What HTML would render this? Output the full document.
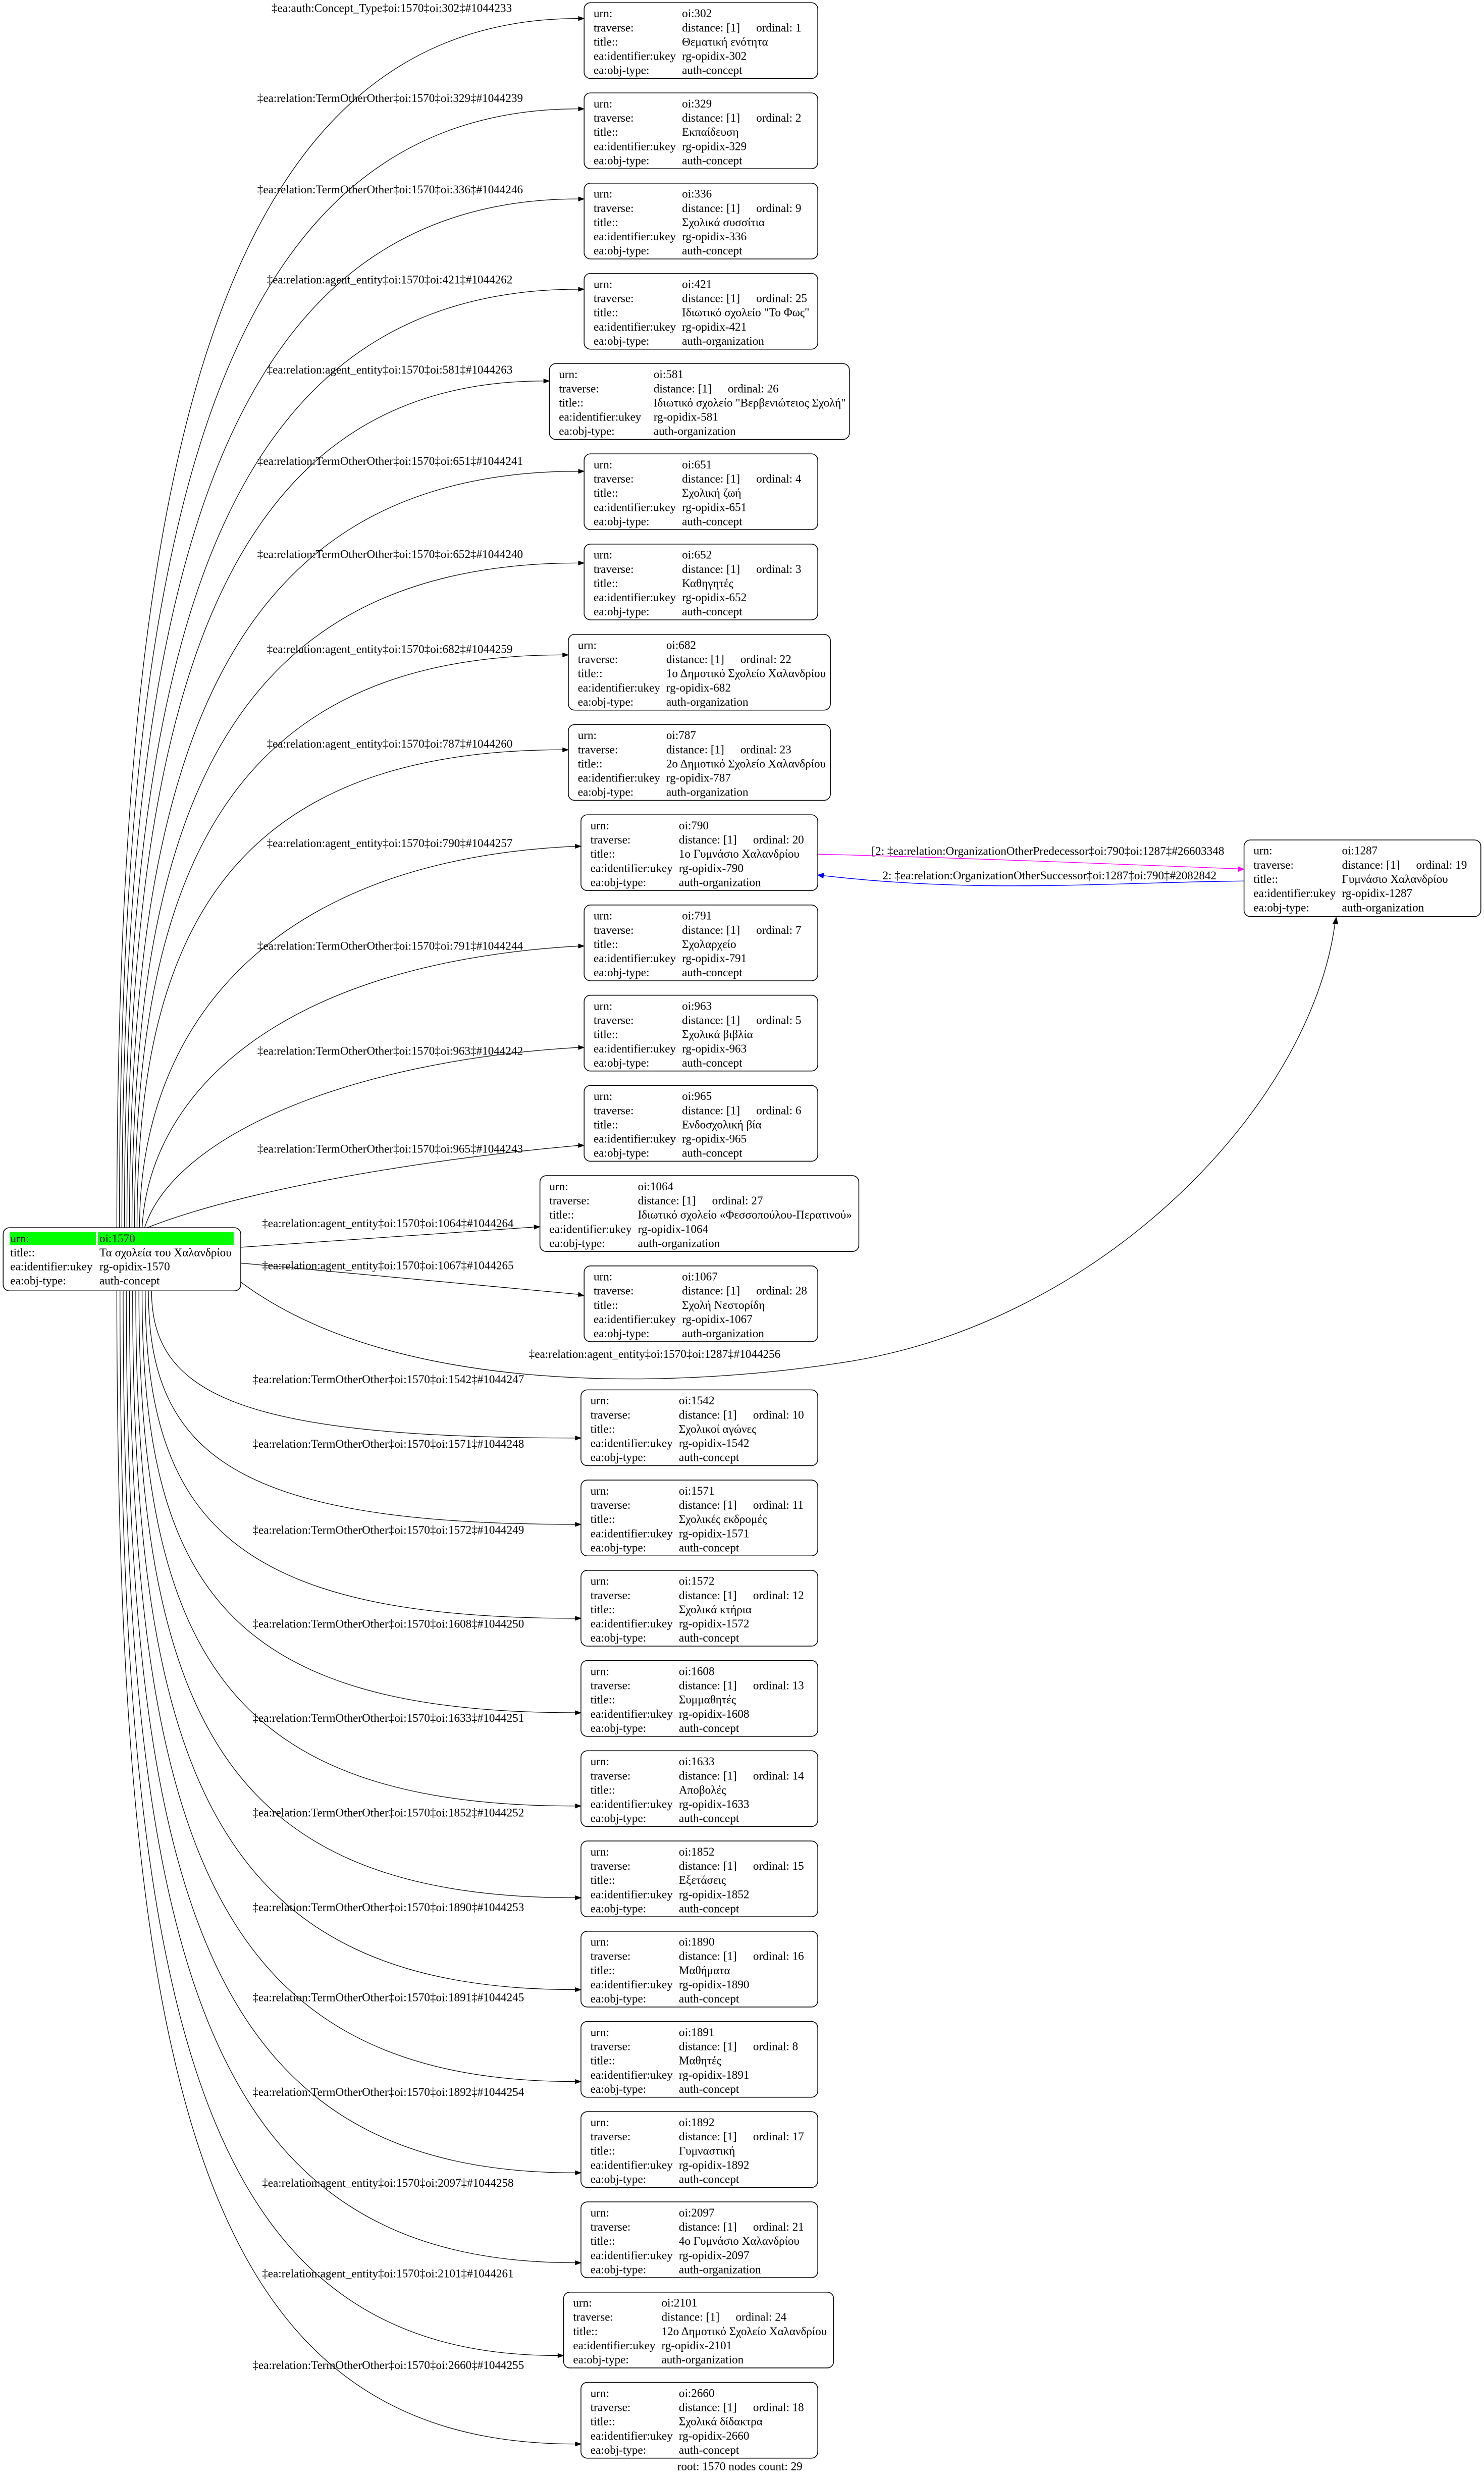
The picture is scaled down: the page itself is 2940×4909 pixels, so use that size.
<!DOCTYPE html>
<html><head><meta charset="utf-8">
<style>
html,body{margin:0;padding:0;background:#fff;}
svg{display:block;}
text{font-family:"Liberation Serif","DejaVu Serif",serif;font-size:7.4px;fill:#000;}
.n rect{fill:#fff;stroke:#000;stroke-width:.5;}
.e{fill:none;stroke:#000;stroke-width:.4;}
.a{fill:#000;stroke:#000;stroke-width:.3;}
</style></head><body>
<svg width="2940" height="4909" viewBox="0 0 940 1569.5" xmlns="http://www.w3.org/2000/svg">
<rect x="0" y="0" width="940" height="1569.5" fill="#fff"/>

<!-- edges upper -->
<path class="e" d="M74,777.6 C74,318.1 129,11.7 366.4,11.7"/><polygon class="a" points="366.4,10.4 370,11.7 366.4,13"/>
<path class="e" d="M75.6,777.6 C75.6,352.4 130.6,68.9 366.4,68.9"/><polygon class="a" points="366.4,67.6 370,68.9 366.4,70.2"/>
<path class="e" d="M77.2,777.6 C77.2,386.6 132.2,126 366.4,126"/><polygon class="a" points="366.4,124.7 370,126 366.4,127.3"/>
<path class="e" d="M78.8,777.6 C78.8,420.9 133.8,183.2 366.4,183.2"/><polygon class="a" points="366.4,181.9 370,183.2 366.4,184.5"/>
<path class="e" d="M80.4,777.6 C80.4,455.8 135.4,241.3 344.4,241.3"/><polygon class="a" points="344.4,240 348,241.3 344.4,242.6"/>
<path class="e" d="M82,777.6 C82,490.1 137,298.5 366.4,298.5"/><polygon class="a" points="366.4,297.2 370,298.5 366.4,299.8"/>
<path class="e" d="M83.6,777.6 C83.6,525 138.6,356.6 366.4,356.6"/><polygon class="a" points="366.4,355.3 370,356.6 366.4,357.9"/>
<path class="e" d="M85.2,777.6 C85.2,559.9 140.2,414.8 356.4,414.8"/><polygon class="a" points="356.4,413.5 360,414.8 356.4,416.1"/>
<path class="e" d="M86.8,777.6 C86.8,596 141.8,474.9 356.4,474.9"/><polygon class="a" points="356.4,473.6 360,474.9 356.4,476.2"/>
<path class="e" d="M88.4,777.6 C88.4,650 170,545 364.4,536"/><polygon class="a" points="364.4,534.7 368,536 364.4,537.3"/>
<path class="e" d="M90,777.6 C95,690 180,610 366.4,599.2"/><polygon class="a" points="366.4,597.9 370,599.2 366.4,600.5"/>
<path class="e" d="M91.6,777.6 C110,720 220,672 366.4,663.4"/><polygon class="a" points="366.4,662.1 370,663.4 366.4,664.7"/>
<path class="e" d="M93.2,777.6 C150,755 260,735 366.4,725.5"/><polygon class="a" points="366.4,724.2 370,725.5 366.4,726.8"/>
<path class="e" d="M152.5,790 L338.4,777.2"/><polygon class="a" points="338.3,775.9 342,777 338.5,778.5"/>
<path class="e" d="M152.5,800 L366.4,819.8"/><polygon class="a" points="366.5,818.5 370,820.8 366.3,821.1"/>
<path class="e" d="M152.5,812 C250,885 430,880 540,862 C700,835 830,700 845.6,585"/><polygon class="a" points="846.4,581 844.3,585 847.5,585.3"/>

<!-- edges lower -->
<path class="e" d="M96,817.5 C96,882.8 151,910.8 364.4,910.8"/><polygon class="a" points="364.4,909.5 368,910.8 364.4,912.1"/>
<path class="e" d="M94,817.5 C94,921.1 149,965.5 364.4,965.5"/><polygon class="a" points="364.4,964.2 368,965.5 364.4,966.8"/>
<path class="e" d="M92,817.5 C92,962.7 147,1025 364.4,1025"/><polygon class="a" points="364.4,1023.7 368,1025 364.4,1026.3"/>
<path class="e" d="M90,817.5 C90,1004.6 145,1084.8 364.4,1084.8"/><polygon class="a" points="364.4,1083.5 368,1084.8 364.4,1086.1"/>
<path class="e" d="M88,817.5 C88,1046 143,1143.9 364.4,1143.9"/><polygon class="a" points="364.4,1142.6 368,1143.9 364.4,1145.2"/>
<path class="e" d="M86,817.5 C86,1086.6 141,1202 364.4,1202"/><polygon class="a" points="364.4,1200.7 368,1202 364.4,1203.3"/>
<path class="e" d="M84,817.5 C84,1127.4 139,1260.2 364.4,1260.2"/><polygon class="a" points="364.4,1258.9 368,1260.2 364.4,1261.5"/>
<path class="e" d="M82,817.5 C82,1168.1 137,1318.4 364.4,1318.4"/><polygon class="a" points="364.4,1317.1 368,1318.4 364.4,1319.7"/>
<path class="e" d="M80,817.5 C80,1208.6 135,1376.2 364.4,1376.2"/><polygon class="a" points="364.4,1374.9 368,1376.2 364.4,1377.5"/>
<path class="e" d="M78,817.5 C78,1248.5 133,1433.2 364.4,1433.2"/><polygon class="a" points="364.4,1431.9 368,1433.2 364.4,1434.5"/>
<path class="e" d="M76,817.5 C76,1289.6 131,1492 353.4,1492"/><polygon class="a" points="353.4,1490.7 357,1492 353.4,1493.3"/>
<path class="e" d="M74,817.5 C74,1328.8 129,1548 364.4,1548"/><polygon class="a" points="364.4,1546.7 368,1548 364.4,1549.3"/>

<!-- 790 <-> 1287 -->
<path d="M518,541 C600,543 700,547 784.4,550.3" fill="none" stroke="#ff00ff" stroke-width=".45"/>
<polygon points="784.4,549 788,550.5 784.3,552" fill="#ff00ff" stroke="#ff00ff" stroke-width=".3"/>
<path d="M788,558 C700,559 620,566 521.6,554.6" fill="none" stroke="#0000ff" stroke-width=".45"/>
<polygon points="521.8,553 518,554.2 521.4,556.2" fill="#0000ff" stroke="#0000ff" stroke-width=".3"/>
<text x="552" y="541.5">[2: ‡ea:relation:OrganizationOtherPredecessor‡oi:790‡oi:1287‡#26603348</text>
<text x="559" y="557">2: ‡ea:relation:OrganizationOtherSuccessor‡oi:1287‡oi:790‡#2082842</text>

<!-- edge labels -->
<text x="172" y="7.5">‡ea:auth:Concept_Type‡oi:1570‡oi:302‡#1044233</text>
<text x="163" y="64.5">‡ea:relation:TermOtherOther‡oi:1570‡oi:329‡#1044239</text>
<text x="163" y="122.5">‡ea:relation:TermOtherOther‡oi:1570‡oi:336‡#1044246</text>
<text x="169" y="179.5">‡ea:relation:agent_entity‡oi:1570‡oi:421‡#1044262</text>
<text x="169" y="236.5">‡ea:relation:agent_entity‡oi:1570‡oi:581‡#1044263</text>
<text x="163" y="294.5">‡ea:relation:TermOtherOther‡oi:1570‡oi:651‡#1044241</text>
<text x="163" y="353.5">‡ea:relation:TermOtherOther‡oi:1570‡oi:652‡#1044240</text>
<text x="169" y="413.5">‡ea:relation:agent_entity‡oi:1570‡oi:682‡#1044259</text>
<text x="169" y="473.5">‡ea:relation:agent_entity‡oi:1570‡oi:787‡#1044260</text>
<text x="169" y="536.5">‡ea:relation:agent_entity‡oi:1570‡oi:790‡#1044257</text>
<text x="163" y="601.5">‡ea:relation:TermOtherOther‡oi:1570‡oi:791‡#1044244</text>
<text x="163" y="668">‡ea:relation:TermOtherOther‡oi:1570‡oi:963‡#1044242</text>
<text x="163" y="730">‡ea:relation:TermOtherOther‡oi:1570‡oi:965‡#1044243</text>
<text x="166" y="777.2">‡ea:relation:agent_entity‡oi:1570‡oi:1064‡#1044264</text>
<text x="166" y="804">‡ea:relation:agent_entity‡oi:1570‡oi:1067‡#1044265</text>
<text x="335" y="860">‡ea:relation:agent_entity‡oi:1570‡oi:1287‡#1044256</text>
<text x="160" y="876">‡ea:relation:TermOtherOther‡oi:1570‡oi:1542‡#1044247</text>
<text x="160" y="917">‡ea:relation:TermOtherOther‡oi:1570‡oi:1571‡#1044248</text>
<text x="160" y="971.5">‡ea:relation:TermOtherOther‡oi:1570‡oi:1572‡#1044249</text>
<text x="160" y="1031">‡ea:relation:TermOtherOther‡oi:1570‡oi:1608‡#1044250</text>
<text x="160" y="1090.5">‡ea:relation:TermOtherOther‡oi:1570‡oi:1633‡#1044251</text>
<text x="160" y="1150.5">‡ea:relation:TermOtherOther‡oi:1570‡oi:1852‡#1044252</text>
<text x="160" y="1210.5">‡ea:relation:TermOtherOther‡oi:1570‡oi:1890‡#1044253</text>
<text x="160" y="1267.5">‡ea:relation:TermOtherOther‡oi:1570‡oi:1891‡#1044245</text>
<text x="160" y="1327.5">‡ea:relation:TermOtherOther‡oi:1570‡oi:1892‡#1044254</text>
<text x="166" y="1385">‡ea:relation:agent_entity‡oi:1570‡oi:2097‡#1044258</text>
<text x="166" y="1442.5">‡ea:relation:agent_entity‡oi:1570‡oi:2101‡#1044261</text>
<text x="160" y="1500.5">‡ea:relation:TermOtherOther‡oi:1570‡oi:2660‡#1044255</text>

<!-- root -->
<g class="n" transform="translate(2,777.6)">
<rect width="150.5" height="40" rx="4"/>
<rect x="4.2" y="2.6" width="54.6" height="8.4" style="fill:#00ff00;stroke:none"/>
<rect x="60" y="2.6" width="86" height="8.4" style="fill:#00ff00;stroke:none"/>
<text x="4.5" y="9.3">urn:</text><text x="61" y="9.3">oi:1570</text>
<text x="4.5" y="18.2">title::</text><text x="61" y="18.2">Τα σχολεία του Χαλανδρίου</text>
<text x="4.5" y="27">ea:identifier:ukey</text><text x="61" y="27">rg-opidix-1570</text>
<text x="4.5" y="36">ea:obj-type:</text><text x="61" y="36">auth-concept</text>
</g>

<!-- nodes -->
<g class="n" transform="translate(370,1.7)"><rect width="148" height="48" rx="4"/><text x="6" y="9.2">urn:</text><text x="62" y="9.2">oi:302</text><text x="6" y="18.2">traverse:</text><text x="62" y="18.2">distance: [1]</text><text x="109" y="18.2">ordinal: 1</text><text x="6" y="27.2">title::</text><text x="62" y="27.2">Θεματική ενότητα</text><text x="6" y="36.2">ea:identifier:ukey</text><text x="62" y="36.2">rg-opidix-302</text><text x="6" y="45.2">ea:obj-type:</text><text x="62" y="45.2">auth-concept</text></g>

<g class="n" transform="translate(370,58.85)"><rect width="148" height="48" rx="4"/><text x="6" y="9.2">urn:</text><text x="62" y="9.2">oi:329</text><text x="6" y="18.2">traverse:</text><text x="62" y="18.2">distance: [1]</text><text x="109" y="18.2">ordinal: 2</text><text x="6" y="27.2">title::</text><text x="62" y="27.2">Εκπαίδευση</text><text x="6" y="36.2">ea:identifier:ukey</text><text x="62" y="36.2">rg-opidix-329</text><text x="6" y="45.2">ea:obj-type:</text><text x="62" y="45.2">auth-concept</text></g>

<g class="n" transform="translate(370,116)"><rect width="148" height="48" rx="4"/><text x="6" y="9.2">urn:</text><text x="62" y="9.2">oi:336</text><text x="6" y="18.2">traverse:</text><text x="62" y="18.2">distance: [1]</text><text x="109" y="18.2">ordinal: 9</text><text x="6" y="27.2">title::</text><text x="62" y="27.2">Σχολικά συσσίτια</text><text x="6" y="36.2">ea:identifier:ukey</text><text x="62" y="36.2">rg-opidix-336</text><text x="6" y="45.2">ea:obj-type:</text><text x="62" y="45.2">auth-concept</text></g>

<g class="n" transform="translate(370,173.15)"><rect width="148" height="48" rx="4"/><text x="6" y="9.2">urn:</text><text x="62" y="9.2">oi:421</text><text x="6" y="18.2">traverse:</text><text x="62" y="18.2">distance: [1]</text><text x="109" y="18.2">ordinal: 25</text><text x="6" y="27.2">title::</text><text x="62" y="27.2">Ιδιωτικό σχολείο "Το Φως"</text><text x="6" y="36.2">ea:identifier:ukey</text><text x="62" y="36.2">rg-opidix-421</text><text x="6" y="45.2">ea:obj-type:</text><text x="62" y="45.2">auth-organization</text></g>

<g class="n" transform="translate(348,230.3)"><rect width="190" height="48" rx="4"/><text x="6" y="9.2">urn:</text><text x="66" y="9.2">oi:581</text><text x="6" y="18.2">traverse:</text><text x="66" y="18.2">distance: [1]</text><text x="113" y="18.2">ordinal: 26</text><text x="6" y="27.2">title::</text><text x="66" y="27.2">Ιδιωτικό σχολείο "Βερβενιώτειος Σχολή"</text><text x="6" y="36.2">ea:identifier:ukey</text><text x="66" y="36.2">rg-opidix-581</text><text x="6" y="45.2">ea:obj-type:</text><text x="66" y="45.2">auth-organization</text></g>

<g class="n" transform="translate(370,287.45)"><rect width="148" height="48" rx="4"/><text x="6" y="9.2">urn:</text><text x="62" y="9.2">oi:651</text><text x="6" y="18.2">traverse:</text><text x="62" y="18.2">distance: [1]</text><text x="109" y="18.2">ordinal: 4</text><text x="6" y="27.2">title::</text><text x="62" y="27.2">Σχολική ζωή</text><text x="6" y="36.2">ea:identifier:ukey</text><text x="62" y="36.2">rg-opidix-651</text><text x="6" y="45.2">ea:obj-type:</text><text x="62" y="45.2">auth-concept</text></g>

<g class="n" transform="translate(370,344.6)"><rect width="148" height="48" rx="4"/><text x="6" y="9.2">urn:</text><text x="62" y="9.2">oi:652</text><text x="6" y="18.2">traverse:</text><text x="62" y="18.2">distance: [1]</text><text x="109" y="18.2">ordinal: 3</text><text x="6" y="27.2">title::</text><text x="62" y="27.2">Καθηγητές</text><text x="6" y="36.2">ea:identifier:ukey</text><text x="62" y="36.2">rg-opidix-652</text><text x="6" y="45.2">ea:obj-type:</text><text x="62" y="45.2">auth-concept</text></g>

<g class="n" transform="translate(360,401.75)"><rect width="166" height="48" rx="4"/><text x="6" y="9.2">urn:</text><text x="62" y="9.2">oi:682</text><text x="6" y="18.2">traverse:</text><text x="62" y="18.2">distance: [1]</text><text x="109" y="18.2">ordinal: 22</text><text x="6" y="27.2">title::</text><text x="62" y="27.2">1ο Δημοτικό Σχολείο Χαλανδρίου</text><text x="6" y="36.2">ea:identifier:ukey</text><text x="62" y="36.2">rg-opidix-682</text><text x="6" y="45.2">ea:obj-type:</text><text x="62" y="45.2">auth-organization</text></g>

<g class="n" transform="translate(360,458.9)"><rect width="166" height="48" rx="4"/><text x="6" y="9.2">urn:</text><text x="62" y="9.2">oi:787</text><text x="6" y="18.2">traverse:</text><text x="62" y="18.2">distance: [1]</text><text x="109" y="18.2">ordinal: 23</text><text x="6" y="27.2">title::</text><text x="62" y="27.2">2ο Δημοτικό Σχολείο Χαλανδρίου</text><text x="6" y="36.2">ea:identifier:ukey</text><text x="62" y="36.2">rg-opidix-787</text><text x="6" y="45.2">ea:obj-type:</text><text x="62" y="45.2">auth-organization</text></g>

<g class="n" transform="translate(368,516.05)"><rect width="150" height="48" rx="4"/><text x="6" y="9.2">urn:</text><text x="62" y="9.2">oi:790</text><text x="6" y="18.2">traverse:</text><text x="62" y="18.2">distance: [1]</text><text x="109" y="18.2">ordinal: 20</text><text x="6" y="27.2">title::</text><text x="62" y="27.2">1ο Γυμνάσιο Χαλανδρίου</text><text x="6" y="36.2">ea:identifier:ukey</text><text x="62" y="36.2">rg-opidix-790</text><text x="6" y="45.2">ea:obj-type:</text><text x="62" y="45.2">auth-organization</text></g>

<g class="n" transform="translate(370,573.2)"><rect width="148" height="48" rx="4"/><text x="6" y="9.2">urn:</text><text x="62" y="9.2">oi:791</text><text x="6" y="18.2">traverse:</text><text x="62" y="18.2">distance: [1]</text><text x="109" y="18.2">ordinal: 7</text><text x="6" y="27.2">title::</text><text x="62" y="27.2">Σχολαρχείο</text><text x="6" y="36.2">ea:identifier:ukey</text><text x="62" y="36.2">rg-opidix-791</text><text x="6" y="45.2">ea:obj-type:</text><text x="62" y="45.2">auth-concept</text></g>

<g class="n" transform="translate(370,630.35)"><rect width="148" height="48" rx="4"/><text x="6" y="9.2">urn:</text><text x="62" y="9.2">oi:963</text><text x="6" y="18.2">traverse:</text><text x="62" y="18.2">distance: [1]</text><text x="109" y="18.2">ordinal: 5</text><text x="6" y="27.2">title::</text><text x="62" y="27.2">Σχολικά βιβλία</text><text x="6" y="36.2">ea:identifier:ukey</text><text x="62" y="36.2">rg-opidix-963</text><text x="6" y="45.2">ea:obj-type:</text><text x="62" y="45.2">auth-concept</text></g>

<g class="n" transform="translate(370,687.5)"><rect width="148" height="48" rx="4"/><text x="6" y="9.2">urn:</text><text x="62" y="9.2">oi:965</text><text x="6" y="18.2">traverse:</text><text x="62" y="18.2">distance: [1]</text><text x="109" y="18.2">ordinal: 6</text><text x="6" y="27.2">title::</text><text x="62" y="27.2">Ενδοσχολική βία</text><text x="6" y="36.2">ea:identifier:ukey</text><text x="62" y="36.2">rg-opidix-965</text><text x="6" y="45.2">ea:obj-type:</text><text x="62" y="45.2">auth-concept</text></g>

<g class="n" transform="translate(342,744.65)"><rect width="202" height="48" rx="4"/><text x="6" y="9.2">urn:</text><text x="62" y="9.2">oi:1064</text><text x="6" y="18.2">traverse:</text><text x="62" y="18.2">distance: [1]</text><text x="109" y="18.2">ordinal: 27</text><text x="6" y="27.2">title::</text><text x="62" y="27.2">Ιδιωτικό σχολείο «Φεσσοπούλου-Περατινού»</text><text x="6" y="36.2">ea:identifier:ukey</text><text x="62" y="36.2">rg-opidix-1064</text><text x="6" y="45.2">ea:obj-type:</text><text x="62" y="45.2">auth-organization</text></g>

<g class="n" transform="translate(370,801.8)"><rect width="148" height="48" rx="4"/><text x="6" y="9.2">urn:</text><text x="62" y="9.2">oi:1067</text><text x="6" y="18.2">traverse:</text><text x="62" y="18.2">distance: [1]</text><text x="109" y="18.2">ordinal: 28</text><text x="6" y="27.2">title::</text><text x="62" y="27.2">Σχολή Νεστορίδη</text><text x="6" y="36.2">ea:identifier:ukey</text><text x="62" y="36.2">rg-opidix-1067</text><text x="6" y="45.2">ea:obj-type:</text><text x="62" y="45.2">auth-organization</text></g>

<g class="n" transform="translate(788,532)"><rect width="150" height="48.5" rx="4"/><text x="6" y="9.2">urn:</text><text x="62" y="9.2">oi:1287</text><text x="6" y="18.2">traverse:</text><text x="62" y="18.2">distance: [1]</text><text x="109" y="18.2">ordinal: 19</text><text x="6" y="27.2">title::</text><text x="62" y="27.2">Γυμνάσιο Χαλανδρίου</text><text x="6" y="36.2">ea:identifier:ukey</text><text x="62" y="36.2">rg-opidix-1287</text><text x="6" y="45.2">ea:obj-type:</text><text x="62" y="45.2">auth-organization</text></g>

<g class="n" transform="translate(368,880.3)"><rect width="150" height="48" rx="4"/><text x="6" y="9.2">urn:</text><text x="62" y="9.2">oi:1542</text><text x="6" y="18.2">traverse:</text><text x="62" y="18.2">distance: [1]</text><text x="109" y="18.2">ordinal: 10</text><text x="6" y="27.2">title::</text><text x="62" y="27.2">Σχολικοί αγώνες</text><text x="6" y="36.2">ea:identifier:ukey</text><text x="62" y="36.2">rg-opidix-1542</text><text x="6" y="45.2">ea:obj-type:</text><text x="62" y="45.2">auth-concept</text></g>

<g class="n" transform="translate(368,937.45)"><rect width="150" height="48" rx="4"/><text x="6" y="9.2">urn:</text><text x="62" y="9.2">oi:1571</text><text x="6" y="18.2">traverse:</text><text x="62" y="18.2">distance: [1]</text><text x="109" y="18.2">ordinal: 11</text><text x="6" y="27.2">title::</text><text x="62" y="27.2">Σχολικές εκδρομές</text><text x="6" y="36.2">ea:identifier:ukey</text><text x="62" y="36.2">rg-opidix-1571</text><text x="6" y="45.2">ea:obj-type:</text><text x="62" y="45.2">auth-concept</text></g>

<g class="n" transform="translate(368,994.6)"><rect width="150" height="48" rx="4"/><text x="6" y="9.2">urn:</text><text x="62" y="9.2">oi:1572</text><text x="6" y="18.2">traverse:</text><text x="62" y="18.2">distance: [1]</text><text x="109" y="18.2">ordinal: 12</text><text x="6" y="27.2">title::</text><text x="62" y="27.2">Σχολικά κτήρια</text><text x="6" y="36.2">ea:identifier:ukey</text><text x="62" y="36.2">rg-opidix-1572</text><text x="6" y="45.2">ea:obj-type:</text><text x="62" y="45.2">auth-concept</text></g>

<g class="n" transform="translate(368,1051.75)"><rect width="150" height="48" rx="4"/><text x="6" y="9.2">urn:</text><text x="62" y="9.2">oi:1608</text><text x="6" y="18.2">traverse:</text><text x="62" y="18.2">distance: [1]</text><text x="109" y="18.2">ordinal: 13</text><text x="6" y="27.2">title::</text><text x="62" y="27.2">Συμμαθητές</text><text x="6" y="36.2">ea:identifier:ukey</text><text x="62" y="36.2">rg-opidix-1608</text><text x="6" y="45.2">ea:obj-type:</text><text x="62" y="45.2">auth-concept</text></g>

<g class="n" transform="translate(368,1108.9)"><rect width="150" height="48" rx="4"/><text x="6" y="9.2">urn:</text><text x="62" y="9.2">oi:1633</text><text x="6" y="18.2">traverse:</text><text x="62" y="18.2">distance: [1]</text><text x="109" y="18.2">ordinal: 14</text><text x="6" y="27.2">title::</text><text x="62" y="27.2">Αποβολές</text><text x="6" y="36.2">ea:identifier:ukey</text><text x="62" y="36.2">rg-opidix-1633</text><text x="6" y="45.2">ea:obj-type:</text><text x="62" y="45.2">auth-concept</text></g>

<g class="n" transform="translate(368,1166.05)"><rect width="150" height="48" rx="4"/><text x="6" y="9.2">urn:</text><text x="62" y="9.2">oi:1852</text><text x="6" y="18.2">traverse:</text><text x="62" y="18.2">distance: [1]</text><text x="109" y="18.2">ordinal: 15</text><text x="6" y="27.2">title::</text><text x="62" y="27.2">Εξετάσεις</text><text x="6" y="36.2">ea:identifier:ukey</text><text x="62" y="36.2">rg-opidix-1852</text><text x="6" y="45.2">ea:obj-type:</text><text x="62" y="45.2">auth-concept</text></g>

<g class="n" transform="translate(368,1223.2)"><rect width="150" height="48" rx="4"/><text x="6" y="9.2">urn:</text><text x="62" y="9.2">oi:1890</text><text x="6" y="18.2">traverse:</text><text x="62" y="18.2">distance: [1]</text><text x="109" y="18.2">ordinal: 16</text><text x="6" y="27.2">title::</text><text x="62" y="27.2">Μαθήματα</text><text x="6" y="36.2">ea:identifier:ukey</text><text x="62" y="36.2">rg-opidix-1890</text><text x="6" y="45.2">ea:obj-type:</text><text x="62" y="45.2">auth-concept</text></g>

<g class="n" transform="translate(368,1280.35)"><rect width="150" height="48" rx="4"/><text x="6" y="9.2">urn:</text><text x="62" y="9.2">oi:1891</text><text x="6" y="18.2">traverse:</text><text x="62" y="18.2">distance: [1]</text><text x="109" y="18.2">ordinal: 8</text><text x="6" y="27.2">title::</text><text x="62" y="27.2">Μαθητές</text><text x="6" y="36.2">ea:identifier:ukey</text><text x="62" y="36.2">rg-opidix-1891</text><text x="6" y="45.2">ea:obj-type:</text><text x="62" y="45.2">auth-concept</text></g>

<g class="n" transform="translate(368,1337.5)"><rect width="150" height="48" rx="4"/><text x="6" y="9.2">urn:</text><text x="62" y="9.2">oi:1892</text><text x="6" y="18.2">traverse:</text><text x="62" y="18.2">distance: [1]</text><text x="109" y="18.2">ordinal: 17</text><text x="6" y="27.2">title::</text><text x="62" y="27.2">Γυμναστική</text><text x="6" y="36.2">ea:identifier:ukey</text><text x="62" y="36.2">rg-opidix-1892</text><text x="6" y="45.2">ea:obj-type:</text><text x="62" y="45.2">auth-concept</text></g>

<g class="n" transform="translate(368,1394.65)"><rect width="150" height="48" rx="4"/><text x="6" y="9.2">urn:</text><text x="62" y="9.2">oi:2097</text><text x="6" y="18.2">traverse:</text><text x="62" y="18.2">distance: [1]</text><text x="109" y="18.2">ordinal: 21</text><text x="6" y="27.2">title::</text><text x="62" y="27.2">4ο Γυμνάσιο Χαλανδρίου</text><text x="6" y="36.2">ea:identifier:ukey</text><text x="62" y="36.2">rg-opidix-2097</text><text x="6" y="45.2">ea:obj-type:</text><text x="62" y="45.2">auth-organization</text></g>

<g class="n" transform="translate(357,1451.8)"><rect width="171" height="48" rx="4"/><text x="6" y="9.2">urn:</text><text x="62" y="9.2">oi:2101</text><text x="6" y="18.2">traverse:</text><text x="62" y="18.2">distance: [1]</text><text x="109" y="18.2">ordinal: 24</text><text x="6" y="27.2">title::</text><text x="62" y="27.2">12ο Δημοτικό Σχολείο Χαλανδρίου</text><text x="6" y="36.2">ea:identifier:ukey</text><text x="62" y="36.2">rg-opidix-2101</text><text x="6" y="45.2">ea:obj-type:</text><text x="62" y="45.2">auth-organization</text></g>

<g class="n" transform="translate(368,1508.95)"><rect width="150" height="48" rx="4"/><text x="6" y="9.2">urn:</text><text x="62" y="9.2">oi:2660</text><text x="6" y="18.2">traverse:</text><text x="62" y="18.2">distance: [1]</text><text x="109" y="18.2">ordinal: 18</text><text x="6" y="27.2">title::</text><text x="62" y="27.2">Σχολικά δίδακτρα</text><text x="6" y="36.2">ea:identifier:ukey</text><text x="62" y="36.2">rg-opidix-2660</text><text x="6" y="45.2">ea:obj-type:</text><text x="62" y="45.2">auth-concept</text></g>

<text x="429" y="1564.5">root: 1570 nodes count: 29</text>
</svg>
</body></html>
